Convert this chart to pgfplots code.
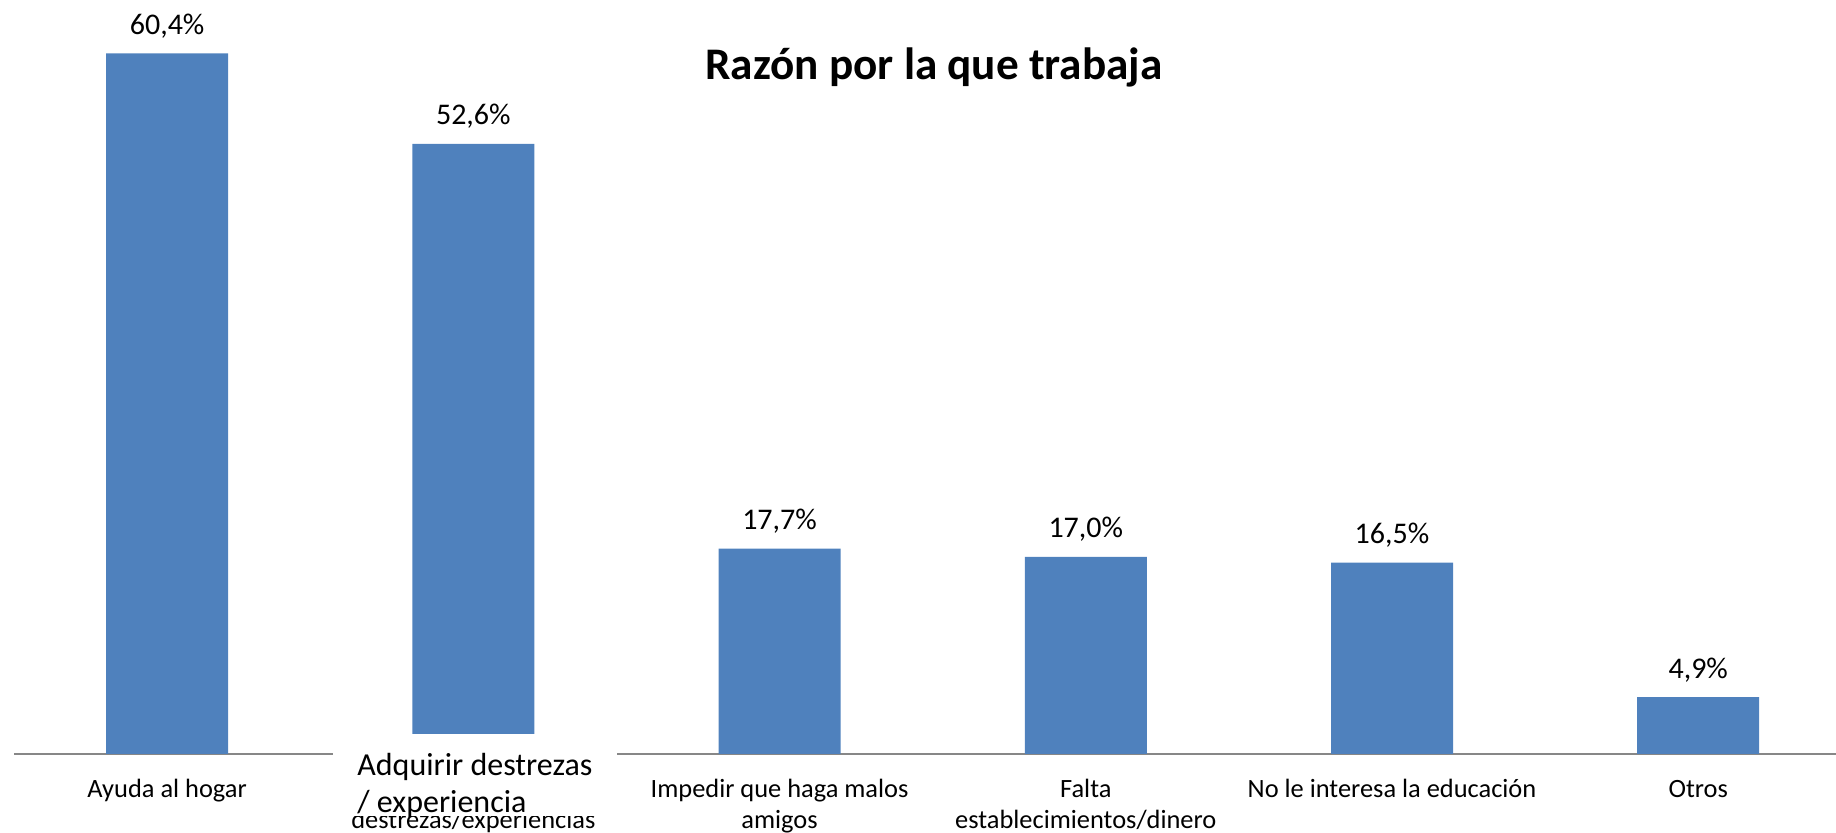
\documentclass[border=0pt]{standalone}
\usepackage{fontspec}
\setmainfont{Carlito}
\usepackage{pgfplots}
\pgfplotsset{compat=1.18}
\definecolor{barblue}{HTML}{4F81BD}
\definecolor{axgray}{HTML}{878787}
\newcommand\st{\rule{0pt}{11pt}}
\begin{document}
\begin{tikzpicture}
\path[use as bounding box] (0,0) rectangle (918pt,416.5pt);
\begin{axis}[
  at={(7pt,39.5pt)}, anchor=south west,
  scale only axis, width=911pt, height=377pt,
  xmin=-0.5, xmax=5.45, ymin=0, ymax=65,
  ybar, bar width=61pt,
  clip=false,
  axis x line*=bottom,
  hide y axis,
  x axis line style={axgray, line width=1pt},
  xtick={0,1,2,3,4,5},
  xticklabels={\st Ayuda al hogar, {\st Adquirir\\destrezas/experiencias}, {\st Impedir que haga malos\\amigos}, {\st Falta\\establecimientos/dinero}, \st No le interesa la educación, \st Otros},
  major tick length=0pt,
  xtick style={draw=none},
  xticklabel style={font=\fontsize{13.2}{15.5}\selectfont, align=center, anchor=north, yshift=-10.5pt, inner sep=0pt},
  nodes near coords={\pgfmathprintnumber[assume math mode=true, use comma, fixed, fixed zerofill, precision=1]{\pgfplotspointmeta}\%},
  every node near coord/.append style={font=\fontsize{15}{17}\selectfont, anchor=base, yshift=9.5pt, inner sep=0pt, text=black},
]
\addplot[fill=barblue, draw=none] coordinates {(0,60.4) (1,52.6) (2,17.7) (3,17.0) (4,16.5) (5,4.9)};
\end{axis}
\fill[white] (166.5pt,8.5pt) rectangle (308.5pt,49.5pt);
\node[anchor=base west, inner sep=0pt, font=\fontsize{16}{18.5}\selectfont] at (178.5pt,28.5pt) {Adquirir destrezas};
\node[anchor=base west, inner sep=0pt, font=\fontsize{16}{18.5}\selectfont] at (178.5pt,10pt) {/ experiencia};
\node[anchor=base, inner sep=0pt, font=\fontsize{22.6}{27}\selectfont\bfseries] at (467pt,376.5pt) {Razón por la que trabaja};
\end{tikzpicture}
\end{document}
